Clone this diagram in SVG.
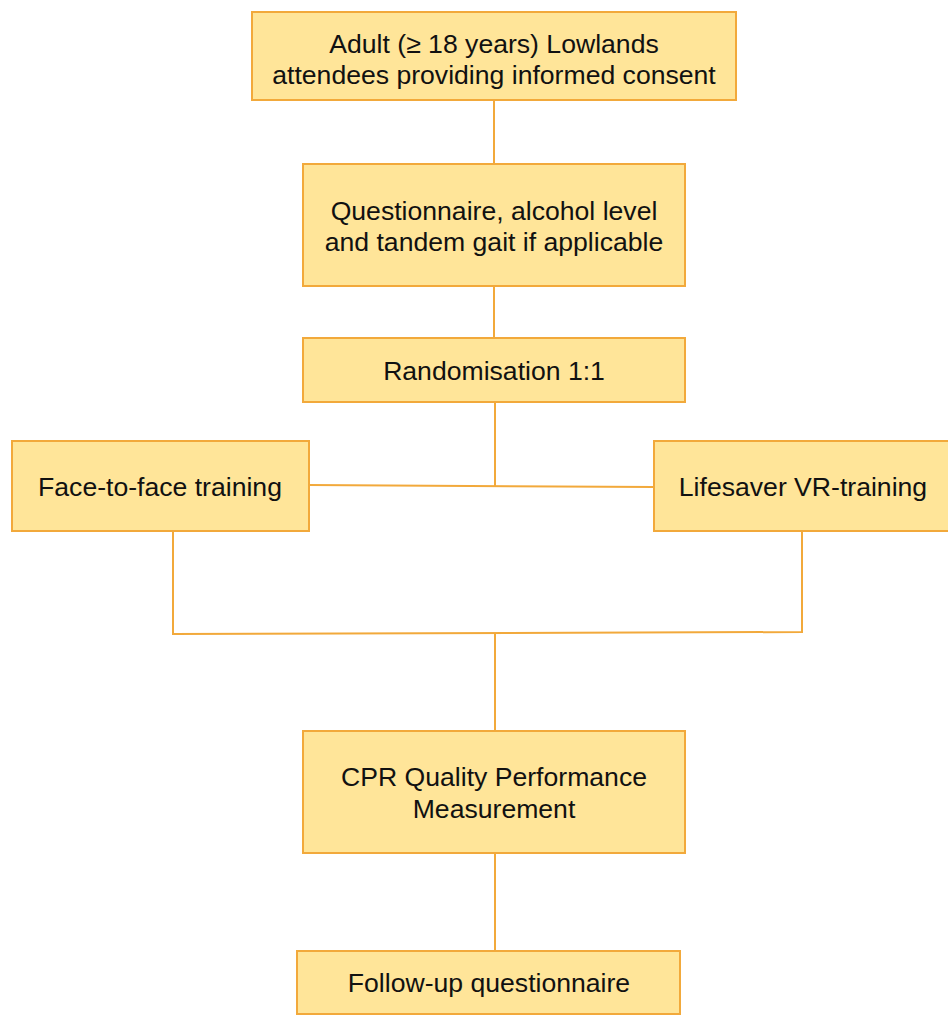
<svg xmlns="http://www.w3.org/2000/svg" width="948" height="1015" viewBox="0 0 948 1015">
<style>
.box{fill:#FFE599;stroke:#F2A93B;stroke-width:2}
.ln{fill:none;stroke:#F2A93B;stroke-width:2}
text{font-family:"Liberation Sans",Arial,sans-serif;font-size:26.6px;fill:#111;text-anchor:middle}
</style>
<rect width="948" height="1015" fill="#fff"/>
<g id="connectors">
<line class="ln" x1="494" y1="100" x2="494" y2="164"/>
<line class="ln" x1="494" y1="286" x2="494" y2="338"/>
<line class="ln" x1="495" y1="402" x2="495" y2="486"/>
<line class="ln" x1="309" y1="485" x2="654" y2="487"/>
<polyline class="ln" points="173,531 173,634 802,632 802,531"/>
<line class="ln" x1="495" y1="633" x2="495" y2="731"/>
<line class="ln" x1="495" y1="853" x2="495" y2="950"/>
</g>
<g id="n1"><rect class="box" x="252" y="12" width="484" height="88"/>
<text x="494" y="53">Adult (≥ 18 years) Lowlands</text>
<text x="494" y="84">attendees providing informed consent</text></g>
<g id="n2"><rect class="box" x="303" y="164" width="382" height="122"/>
<text x="494" y="220">Questionnaire, alcohol level</text>
<text x="494" y="251">and tandem gait if applicable</text></g>
<g id="n3"><rect class="box" x="303" y="338" width="382" height="64"/>
<text x="494" y="380">Randomisation 1:1</text></g>
<g id="n4"><rect class="box" x="12" y="441" width="297" height="90"/>
<text x="160" y="496">Face-to-face training</text></g>
<g id="n5"><rect class="box" x="654" y="441" width="300" height="90"/>
<text x="803" y="496">Lifesaver VR-training</text></g>
<g id="n6"><rect class="box" x="303" y="731" width="382" height="122"/>
<text x="494" y="786">CPR Quality Performance</text>
<text x="494" y="818">Measurement</text></g>
<g id="n7"><rect class="box" x="297" y="951" width="383" height="63"/>
<text x="489" y="992">Follow-up questionnaire</text></g>
</svg>
